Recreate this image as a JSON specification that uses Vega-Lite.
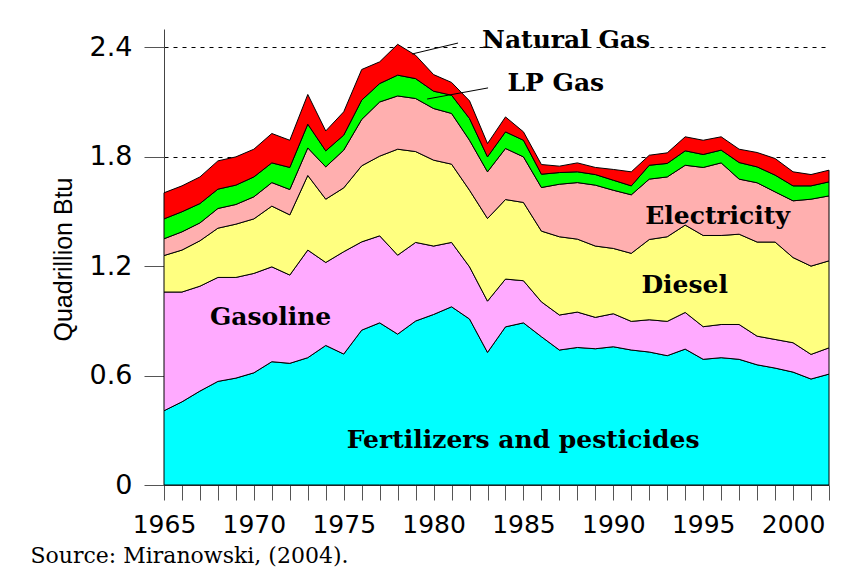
{
  "$schema": "https://vega.github.io/schema/vega-lite/v6.json",
  "autosize": {"type": "none"},
  "width": 665,
  "height": 456,
  "padding": {"left": 164, "top": 29, "right": 30, "bottom": 90},
  "background": "white",
  "config": {"view": {"stroke": null}, "axis": {"labelOverlap": false}},
  "datasets": {
    "ranks": [
      {"series": "Fertilizers and pesticides", "rank": 1},
      {"series": "Gasoline", "rank": 2},
      {"series": "Diesel", "rank": 3},
      {"series": "Electricity", "rank": 4},
      {"series": "LP Gas", "rank": 5},
      {"series": "Natural Gas", "rank": 6}
    ]
  },
  "layer": [
    {
      "data": {"values": [
        {"year":1965,"Fertilizers and pesticides":0.407,"Gasoline":0.651,"Diesel":0.200,"Electricity":0.092,"LP Gas":0.109,"Natural Gas":0.143},
        {"year":1966,"Fertilizers and pesticides":0.456,"Gasoline":0.602,"Diesel":0.230,"Electricity":0.100,"LP Gas":0.110,"Natural Gas":0.142},
        {"year":1967,"Fertilizers and pesticides":0.515,"Gasoline":0.575,"Diesel":0.249,"Electricity":0.098,"LP Gas":0.106,"Natural Gas":0.146},
        {"year":1968,"Fertilizers and pesticides":0.568,"Gasoline":0.570,"Diesel":0.270,"Electricity":0.108,"LP Gas":0.106,"Natural Gas":0.155},
        {"year":1969,"Fertilizers and pesticides":0.586,"Gasoline":0.552,"Diesel":0.292,"Electricity":0.108,"LP Gas":0.106,"Natural Gas":0.155},
        {"year":1970,"Fertilizers and pesticides":0.615,"Gasoline":0.545,"Diesel":0.299,"Electricity":0.121,"LP Gas":0.109,"Natural Gas":0.152},
        {"year":1971,"Fertilizers and pesticides":0.676,"Gasoline":0.520,"Diesel":0.333,"Electricity":0.129,"LP Gas":0.108,"Natural Gas":0.161},
        {"year":1972,"Fertilizers and pesticides":0.667,"Gasoline":0.484,"Diesel":0.330,"Electricity":0.139,"LP Gas":0.121,"Natural Gas":0.149},
        {"year":1973,"Fertilizers and pesticides":0.698,"Gasoline":0.590,"Diesel":0.409,"Electricity":0.151,"LP Gas":0.130,"Natural Gas":0.163},
        {"year":1974,"Fertilizers and pesticides":0.765,"Gasoline":0.455,"Diesel":0.347,"Electricity":0.177,"LP Gas":0.088,"Natural Gas":0.109},
        {"year":1975,"Fertilizers and pesticides":0.718,"Gasoline":0.561,"Diesel":0.350,"Electricity":0.207,"LP Gas":0.082,"Natural Gas":0.128},
        {"year":1976,"Fertilizers and pesticides":0.849,"Gasoline":0.484,"Diesel":0.417,"Electricity":0.254,"LP Gas":0.106,"Natural Gas":0.168},
        {"year":1977,"Fertilizers and pesticides":0.889,"Gasoline":0.477,"Diesel":0.437,"Electricity":0.297,"LP Gas":0.101,"Natural Gas":0.119},
        {"year":1978,"Fertilizers and pesticides":0.827,"Gasoline":0.433,"Diesel":0.581,"Electricity":0.292,"LP Gas":0.114,"Natural Gas":0.169},
        {"year":1979,"Fertilizers and pesticides":0.899,"Gasoline":0.431,"Diesel":0.498,"Electricity":0.291,"LP Gas":0.109,"Natural Gas":0.128},
        {"year":1980,"Fertilizers and pesticides":0.935,"Gasoline":0.375,"Diesel":0.471,"Electricity":0.283,"LP Gas":0.095,"Natural Gas":0.091},
        {"year":1981,"Fertilizers and pesticides":0.977,"Gasoline":0.353,"Diesel":0.429,"Electricity":0.278,"LP Gas":0.100,"Natural Gas":0.070},
        {"year":1982,"Fertilizers and pesticides":0.910,"Gasoline":0.286,"Diesel":0.420,"Electricity":0.274,"LP Gas":0.119,"Natural Gas":0.097},
        {"year":1983,"Fertilizers and pesticides":0.727,"Gasoline":0.281,"Diesel":0.453,"Electricity":0.256,"LP Gas":0.082,"Natural Gas":0.073},
        {"year":1984,"Fertilizers and pesticides":0.867,"Gasoline":0.262,"Diesel":0.436,"Electricity":0.280,"LP Gas":0.091,"Natural Gas":0.082},
        {"year":1985,"Fertilizers and pesticides":0.889,"Gasoline":0.231,"Diesel":0.429,"Electricity":0.250,"LP Gas":0.091,"Natural Gas":0.046},
        {"year":1986,"Fertilizers and pesticides":0.813,"Gasoline":0.191,"Diesel":0.388,"Electricity":0.239,"LP Gas":0.073,"Natural Gas":0.053},
        {"year":1987,"Fertilizers and pesticides":0.740,"Gasoline":0.192,"Diesel":0.429,"Electricity":0.288,"LP Gas":0.064,"Natural Gas":0.035},
        {"year":1988,"Fertilizers and pesticides":0.754,"Gasoline":0.194,"Diesel":0.400,"Electricity":0.310,"LP Gas":0.059,"Natural Gas":0.049},
        {"year":1989,"Fertilizers and pesticides":0.747,"Gasoline":0.172,"Diesel":0.391,"Electricity":0.334,"LP Gas":0.058,"Natural Gas":0.039},
        {"year":1990,"Fertilizers and pesticides":0.758,"Gasoline":0.181,"Diesel":0.358,"Electricity":0.319,"LP Gas":0.055,"Natural Gas":0.059},
        {"year":1991,"Fertilizers and pesticides":0.740,"Gasoline":0.157,"Diesel":0.373,"Electricity":0.321,"LP Gas":0.049,"Natural Gas":0.077},
        {"year":1992,"Fertilizers and pesticides":0.729,"Gasoline":0.177,"Diesel":0.440,"Electricity":0.331,"LP Gas":0.076,"Natural Gas":0.055},
        {"year":1993,"Fertilizers and pesticides":0.709,"Gasoline":0.188,"Diesel":0.464,"Electricity":0.328,"LP Gas":0.074,"Natural Gas":0.058},
        {"year":1994,"Fertilizers and pesticides":0.745,"Gasoline":0.201,"Diesel":0.479,"Electricity":0.328,"LP Gas":0.079,"Natural Gas":0.077},
        {"year":1995,"Fertilizers and pesticides":0.689,"Gasoline":0.179,"Diesel":0.500,"Electricity":0.373,"LP Gas":0.071,"Natural Gas":0.078},
        {"year":1996,"Fertilizers and pesticides":0.698,"Gasoline":0.182,"Diesel":0.488,"Electricity":0.398,"LP Gas":0.070,"Natural Gas":0.073},
        {"year":1997,"Fertilizers and pesticides":0.689,"Gasoline":0.191,"Diesel":0.495,"Electricity":0.302,"LP Gas":0.091,"Natural Gas":0.073},
        {"year":1998,"Fertilizers and pesticides":0.659,"Gasoline":0.157,"Diesel":0.516,"Electricity":0.325,"LP Gas":0.087,"Natural Gas":0.079},
        {"year":1999,"Fertilizers and pesticides":0.641,"Gasoline":0.157,"Diesel":0.534,"Electricity":0.275,"LP Gas":0.092,"Natural Gas":0.091},
        {"year":2000,"Fertilizers and pesticides":0.619,"Gasoline":0.161,"Diesel":0.467,"Electricity":0.311,"LP Gas":0.082,"Natural Gas":0.077},
        {"year":2001,"Fertilizers and pesticides":0.581,"Gasoline":0.135,"Diesel":0.484,"Electricity":0.367,"LP Gas":0.073,"Natural Gas":0.062},
        {"year":2002,"Fertilizers and pesticides":0.608,"Gasoline":0.144,"Diesel":0.477,"Electricity":0.356,"LP Gas":0.077,"Natural Gas":0.064}
      ]},
      "transform": [
        {"fold": ["Fertilizers and pesticides","Gasoline","Diesel","Electricity","LP Gas","Natural Gas"], "as": ["series","value"]},
        {"lookup": "series", "from": {"data": {"name": "ranks"}, "key": "series", "fields": ["rank"]}}
      ],
      "mark": {"type": "area", "stroke": "black", "strokeWidth": 1, "opacity": 1, "fillOpacity": 1},
      "encoding": {
        "x": {
          "field": "year", "type": "quantitative",
          "scale": {"domain": [1965, 2002], "nice": false, "zero": false},
          "axis": {
            "values": [1965,1966,1967,1968,1969,1970,1971,1972,1973,1974,1975,1976,1977,1978,1979,1980,1981,1982,1983,1984,1985,1986,1987,1988,1989,1990,1991,1992,1993,1994,1995,1996,1997,1998,1999,2000,2001,2002],
            "tickCount": 200,
            "format": "d",
            "labelExpr": "datum.value % 5 == 0 ? datum.label : ''",
            "labelOverlap": false,
            "labelFlush": false,
            "labelBound": false,
            "tickSize": 15,
            "tickColor": "#555",
            "domainColor": "#444",
            "labelPadding": 12,
            "labelFont": "DejaVu Sans",
            "labelFontSize": 25,
            "labelColor": "black",
            "grid": false,
            "title": "Source: Miranowski, (2004).",
            "titleFont": "DejaVu Serif",
            "titleFontWeight": "normal",
            "titleFontSize": 22,
            "titleColor": "black",
            "titleAnchor": "start",
            "titleAlign": "left",
            "titleBaseline": "alphabetic",
            "titleX": -134,
            "titleY": 77
          }
        },
        "y": {
          "field": "value", "type": "quantitative", "stack": "zero",
          "scale": {"domain": [0, 2.5], "nice": false},
          "axis": {
            "values": [0, 0.6, 1.2, 1.8, 2.4],
            "labelExpr": "datum.value == 0 ? '0' : format(datum.value, '.1f')",
            "labelFlush": false,
            "tickSize": 20,
            "tickColor": "#555",
            "domainColor": "#444",
            "labelPadding": 12,
            "labelFont": "DejaVu Sans",
            "labelFontSize": 27,
            "labelColor": "black",
            "grid": true,
            "gridColor": "black",
            "gridDash": [4, 5],
            "gridWidth": 1,
            "gridOpacity": 1,
            "title": "Quadrillion Btu",
            "titleFont": "Liberation Sans",
            "titleFontWeight": "normal",
            "titleFontSize": 25,
            "titleColor": "black",
            "titleAngle": -90,
            "titleAlign": "center",
            "titleBaseline": "alphabetic",
            "titleX": -93,
            "titleY": 230
          }
        },
        "color": {
          "field": "series", "type": "nominal",
          "scale": {
            "domain": ["Fertilizers and pesticides","Gasoline","Diesel","Electricity","LP Gas","Natural Gas"],
            "range": ["#00FFFF","#FFAAFF","#FFFF80","#FFAFAF","#00FF00","#FF0000"]
          },
          "legend": null
        },
        "order": {"field": "rank", "type": "quantitative", "sort": "ascending"}
      }
    },
    {
      "data": {"values": [
        {"label": "Natural Gas", "year": 1987.37, "value": 2.453},
        {"label": "LP Gas", "year": 1986.8, "value": 2.215},
        {"label": "Electricity", "year": 1995.8, "value": 1.488},
        {"label": "Diesel", "year": 1993.97, "value": 1.107},
        {"label": "Gasoline", "year": 1970.93, "value": 0.932},
        {"label": "Fertilizers and pesticides", "year": 1984.98, "value": 0.258}
      ]},
      "mark": {"type": "text", "font": "DejaVu Serif", "fontWeight": "bold", "fontSize": 25, "align": "center", "baseline": "middle", "dy": 2, "color": "black"},
      "encoding": {
        "x": {"field": "year", "type": "quantitative"},
        "y": {"field": "value", "type": "quantitative"},
        "text": {"field": "label"}
      }
    },
    {
      "data": {"values": [
        {"year": 1978.8, "value": 2.363, "year2": 1981.36, "value2": 2.423},
        {"year": 1979.64, "value": 2.116, "year2": 1983.03, "value2": 2.177}
      ]},
      "mark": {"type": "rule", "color": "black", "strokeWidth": 1},
      "encoding": {
        "x": {"field": "year", "type": "quantitative"},
        "y": {"field": "value", "type": "quantitative"},
        "x2": {"field": "year2"},
        "y2": {"field": "value2"}
      }
    }
  ]
}
